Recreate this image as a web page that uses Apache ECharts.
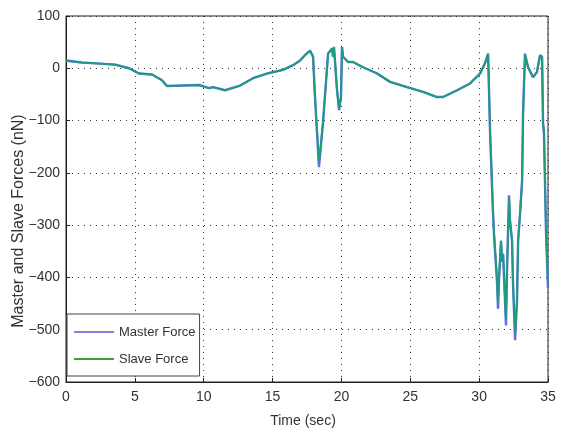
<!DOCTYPE html>
<html><head><meta charset="utf-8">
<script src="https://cdn.jsdelivr.net/npm/echarts@6/dist/echarts.min.js"></script>
<style>html,body{margin:0;padding:0;background:#fff}#c{width:567px;height:432px}</style>
</head><body><div id="c"></div>
<script>
var timeSec = [0,1.16,2.47,3.56,4.58,5.30,6.25,6.97,7.33,8.42,9.66,10.38,10.68,11.55,12.64,13.58,14.6,15.76,16.49,17.0,17.35,17.72,17.94,18.08,18.37,18.66,19.03,19.32,19.39,19.46,19.68,19.83,19.97,20.04,20.12,20.48,20.84,21.57,22.59,23.53,24.76,25.93,26.94,27.38,28.4,29.34,30.07,30.43,30.65,30.79,31.0,31.08,31.3,31.37,31.45,31.59,31.66,31.74,31.95,32.03,32.17,32.24,32.39,32.46,32.61,32.75,32.83,32.97,33.12,33.19,33.33,33.55,33.91,34.2,34.42,34.57,34.64,34.71,34.86,35.0];
var masterForce = [15,11,9,7,0,-10,-12,-23,-34,-33,-32,-38,-36,-42,-33,-19,-10,-3,6,15,25,34,22,-55,-189,-105,28,38,22,41,-42,-80,-55,41,22,12,12,2,-10,-26,-36,-45,-55,-55,-42,-29,-10,10,28,-119,-272,-320,-410,-460,-400,-330,-370,-355,-492,-381,-243,-291,-330,-412,-520,-444,-330,-278,-215,-86,28,2,-17,-7,25,22,-105,-125,-316,-420];
var slaveForce = [14,11,9,7,0,-10,-12,-23,-34,-33,-32,-38,-36,-42,-33,-19,-10,-3,6,15,25,33,22,-55,-178,-105,28,38,22,40,-42,-75,-55,40,22,12,12,2,-10,-26,-36,-45,-55,-55,-42,-29,-10,10,27,-119,-272,-312,-402,-448,-400,-330,-366,-355,-480,-381,-248,-291,-330,-412,-505,-444,-330,-278,-215,-86,27,2,-17,-7,24,22,-105,-125,-316,-410];
var xTicks = [0,5,10,15,20,25,30,35];
var yTicks = [-600,-500,-400,-300,-200,-100,0,100];

function pairs(v){ return timeSec.map(function(t,i){ return [t, v[i]]; }); }
var FONT = "'Liberation Sans', Arial, sans-serif";
var chart = echarts.init(document.getElementById('c'));
chart.setOption({
  animation:false,
  backgroundColor:'#fff',
  grid:{left:66,right:19,top:16,bottom:50,show:true,borderColor:'#222',borderWidth:1,backgroundColor:'transparent'},
  xAxis:{type:'value',min:0,max:35,interval:5,
    axisLine:{show:true,onZero:false,lineStyle:{color:'#222'}},
    axisTick:{inside:true,length:4,lineStyle:{color:'#222'}},
    axisLabel:{color:'#333',fontSize:14,fontFamily:FONT,margin:8,formatter:function(v){return xTicks.indexOf(v)>=0?String(v):'';}},
    splitLine:{show:true,lineStyle:{color:'#333',type:[1,5],width:1}}},
  yAxis:{type:'value',min:-600,max:100,interval:100,
    axisLine:{show:true,onZero:false,lineStyle:{color:'#222'}},
    axisTick:{inside:true,length:4,lineStyle:{color:'#222'}},
    axisLabel:{color:'#333',fontSize:14,fontFamily:FONT,margin:6,formatter:function(v){return yTicks.indexOf(v)>=0?String(v).replace('-','\u2212'):'';}},
    splitLine:{show:true,lineStyle:{color:'#333',type:[1,5],width:1}}},
  legend:{orient:'vertical',left:67,top:314,itemWidth:40,itemHeight:2,itemGap:11,icon:'rect',
    padding:[10,4,9,7],borderColor:'#444',borderWidth:1,backgroundColor:'#fff',
    textStyle:{color:'#333',fontSize:13,fontFamily:FONT,height:16,lineHeight:16},
    data:[{name:'Master Force',itemStyle:{color:'#8a7fd8'}},{name:'Slave Force',itemStyle:{color:'#3f9a3a'}}]},
  graphic:[
    {type:'text',x:303,y:421,style:{text:'Time (sec)',fill:'#333',font:"14px "+FONT,textAlign:'center',textVerticalAlign:'middle'}},
    {type:'text',rotation:Math.PI/2,x:19,y:221,style:{text:'Master and Slave Forces (nN)',fill:'#333',font:"16px "+FONT,textAlign:'center',textVerticalAlign:'middle'}}
  ],
  series:[
    {name:'Master Force',type:'line',symbol:'none',data:pairs(masterForce),color:'#8a7fd8',lineStyle:{width:2.4,color:'#5a70d8'},z:2},
    {name:'Slave Force',type:'line',symbol:'none',data:pairs(slaveForce),color:'#3f9a3a',lineStyle:{width:1.8,color:'#1d9c7e'},z:3}
  ]
});
</script></body></html>
